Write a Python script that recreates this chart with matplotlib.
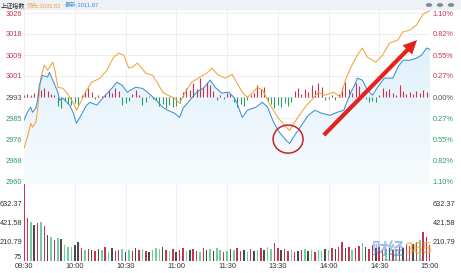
import numpy as np
import matplotlib
matplotlib.use("Agg")
import matplotlib.pyplot as plt
from matplotlib.patches import Ellipse, Circle, Rectangle
from matplotlib.colors import LinearSegmentedColormap

plt.rcParams['font.family'] = ['Liberation Sans', 'Noto Sans CJK SC', 'DejaVu Sans']

# ---------------- data ----------------
prev_close = 2993.1
tick_step = 8.23
price_labels = ["3026", "3018", "3009", "3001", "2993", "2985", "2976", "2968", "2960"]
pct_labels = ["1.10%", "0.82%", "0.55%", "0.27%", "0.00%", "0.27%", "0.55%", "0.82%", "1.10%"]
time_ticks = [0, 30, 60, 90, 120, 150, 180, 210, 240]
time_labels = ["09:30", "10:00", "10:30", "11:00", "11:30", "13:30", "14:00", "14:30", "15:00"]

lead_t = [0, 2, 4, 5, 7, 8, 10, 12, 14, 17, 18, 20, 23, 25, 29, 31, 34, 37, 40, 45, 49, 53, 56, 59, 62,
          64, 67, 72, 76, 79, 82, 85, 89, 92, 95, 99, 103, 108, 111, 115, 119, 123, 126, 129, 132, 135,
          138, 141, 145, 150, 154, 157, 160, 164, 167, 170, 174, 178, 183, 187, 190, 193, 197, 200, 203,
          208, 212, 216, 221, 224, 228, 232, 236, 240]
lead = [2973.0, 2977.3, 2982.8, 2981.2, 2983.2, 2987.9, 3000.9, 3005.6, 3003.6, 3006.8,
        3004.4, 2996.9, 2996.5, 2995.0, 2991.0, 2987.9, 2991.8, 2995.8, 2998.9, 3000.5,
        3003.6, 3008.7, 3010.3, 3009.5, 3004.4, 3004.8, 3006.4, 3002.4, 3001.6, 2998.5,
        2995.0, 2993.8, 2992.6, 2990.6, 2994.6, 2998.9, 3000.5, 3002.4, 3004.4, 3001.6,
        3000.5, 3002.0, 2998.5, 2995.0, 2993.0, 2994.6, 2996.9, 2995.8, 2990.6, 2985.1,
        2982.0, 2980.0, 2983.2, 2987.1, 2989.9, 2991.8, 2995.0, 2993.8, 2995.0, 2993.0,
        2999.7, 3004.4, 3009.5, 3012.3, 3008.7, 3006.8, 3009.5, 3014.2, 3015.4, 3018.6,
        3019.3, 3021.3, 3025.6, 3027.0]

latest_t = [0, 2, 4, 5, 7, 8, 9, 11, 14, 15, 17, 20, 21, 23, 27, 29, 31, 33, 37, 39, 43, 47, 51, 55, 58,
            61, 63, 66, 70, 73, 77, 82, 85, 89, 92, 94, 98, 102, 106, 110, 113, 117, 121, 124, 126, 129,
            132, 137, 141, 144, 147, 151, 155, 157, 160, 164, 168, 172, 176, 181, 185, 189, 193, 196,
            197, 200, 203, 206, 209, 213, 218, 221, 224, 228, 232, 235, 238, 240]
latest = [2984.0, 2987.1, 2989.1, 2987.1, 2988.7, 2991.8, 2997.7, 3001.6, 3000.9, 3002.8,
          2999.7, 2995.0, 2991.8, 2992.6, 2989.9, 2987.1, 2982.8, 2985.1, 2989.9, 2991.0,
          2989.9, 2993.0, 2995.8, 2998.9, 2997.7, 2995.0, 2995.8, 2996.9, 2996.5, 2995.0,
          2992.6, 2989.1, 2987.9, 2986.7, 2985.1, 2988.7, 2991.8, 2995.0, 2996.5, 2999.7,
          2996.9, 2994.6, 2995.0, 2993.0, 2990.6, 2985.1, 2987.9, 2989.1, 2991.0, 2989.1,
          2984.0, 2979.2, 2976.1, 2974.9, 2978.1, 2982.0, 2985.9, 2987.9, 2986.7, 2985.9,
          2987.1, 2987.9, 2994.6, 2998.5, 3000.5, 2999.7, 2995.8, 2993.8, 2996.9, 3000.5,
          3000.5, 3004.8, 3007.5, 3007.5, 3008.3, 3009.5, 3012.3, 3011.7]

bar_t = list(range(0, 241, 2))
updown = [0.8, 1.2, 0.8, 1.6, 2.0, 2.8, 3.5, 2.4, 1.2, 0.8,
          -3.5, -4.3, -1.6, -2.8, -3.1, -2.4, -3.1, 0.8, 2.4, 3.5,
          2.0, -0.8, 0.8, 0.4, 1.2, 2.8, 1.6, 3.5, 2.4, -3.1,
          -2.4, -1.6, 1.2, 2.8, 0.8, -3.1, -2.0, 0.4, -0.8, -1.2,
          -3.5, -2.8, -4.3, -3.1, -3.9, -3.5, -2.4, 2.0, 3.5, 2.8,
          5.5, 3.1, 7.5, 3.9, 5.9, 4.7, 2.4, -1.2, 0.8, -0.8,
          1.6, 1.2, -2.0, -3.9, -2.8, -3.5, -1.2, 0.8, 1.6, 4.7,
          3.1, 3.9, -1.6, -2.8, -4.3, -3.1, -3.9, -2.4, -3.5, -2.0,
          2.4, 3.5, 1.2, 3.1, 2.0, 4.7, 2.8, 5.5, 3.9, -1.2,
          -0.8, 0.8, -1.2, 1.2, 3.9, 5.9, 3.1, 1.6, 5.5, 4.3,
          2.0, -0.8, -2.0, -1.6, -2.0, 0.8, 3.5, 2.4, 3.1, 1.6,
          0.8, 4.7, 2.4, 1.2, 2.0, 1.2, 2.4, 1.6, 2.8, 2.0,
          1.6]

volume = [854, 477, 433, 400, 421, 433, 388, 288, 266, 233, 255,
          244, 177, 155, 155, 177, 211, 144, 122, 133, 122, 111,
          133, 122, 155, 100, 144, 111, 122, 133, 100, 122, 111,
          144, 122, 133, 111, 100, 122, 144, 133, 155, 122, 111,
          133, 100, 122, 144, 111, 122, 133, 111, 100, 144, 122,
          133, 111, 144, 122, 100, 111, 133, 122, 144, 111, 122,
          100, 133, 111, 122, 144, 122, 155, 133, 200, 144, 122,
          133, 111, 122, 100, 111, 122, 133, 111, 122, 100, 122,
          111, 133, 122, 144, 133, 155, 211, 144, 155, 122, 144,
          166, 200, 155, 133, 177, 144, 155, 122, 133, 144, 122,
          133, 155, 144, 177, 166, 188, 211, 233, 322, 266, 177]
vol_dir = ("rrgkrgrkgrg" "kgggkkrgrkr" "kgrgkrrgkgr" "krgrkgggkrg" "rkrrgkrrgrk" "gkggrgkgrrk"
           "grkgrkggrrk" "rrgrkrgkgrg" "gkgrkrrkrgr" "rgkrrkrrgkr" "grkrrkrgrrr")
vol_ticks = [0, 210.79, 421.58, 632.37]
vol_labels = ["75", "210.79", "421.58", "632.37"]

# ---------------- styling ----------------
RED = '#c8344f'
GREEN = '#2a9d63'
ORANGE = '#f0a53c'
BLUE = '#3f91d2'
GRID = '#ebebeb'
HDR_FONT = ['Liberation Sans', 'Noto Sans CJK SC']

W, H = 461, 273
fig = plt.figure(figsize=(W / 100, H / 100), dpi=100)
fig.patch.set_facecolor('white')


def rect(x0, y0, x1, y1):
    return [x0 / W, 1 - y1 / H, (x1 - x0) / W, (y1 - y0) / H]


# header band
fig.patches.append(Rectangle((0, 1 - 10 / H), 1, 10 / H, transform=fig.transFigure,
                             facecolor='#eef1f5', edgecolor='none', zorder=0))
fig.text(1 / W, 1 - 5.5 / H, "上证指数", fontsize=4.4, color='#222222', va='center', family=HDR_FONT)
fig.text(27 / W, 1 - 5.5 / H, "领先:3035.82", fontsize=4.2, color=ORANGE, va='center', family=HDR_FONT)
fig.text(65 / W, 1 - 5.5 / H, "最新:3011.67", fontsize=4.2, color=BLUE, va='center', family=HDR_FONT)
for cx in (429, 440, 451):
    fig.patches.append(Circle((cx / W, 1 - 5 / H), 3.2 / W, transform=fig.transFigure,
                              facecolor='#7d899b', edgecolor='none'))

ax = fig.add_axes(rect(24, 10, 430, 184))
axv = fig.add_axes(rect(24, 184, 430, 261))

px = tick_step / 21.0
ylo, yhi = prev_close - 87 * px, prev_close + 87 * px
levels = [prev_close + tick_step * k for k in range(4, -5, -1)]
lab_colors = [RED] * 4 + ['#555555'] + [GREEN] * 4

# gradient fill under latest line
cmap = LinearSegmentedColormap.from_list('fill', ['#f7fbfe', '#d9eefa'])
grad = np.linspace(0, 1, 256).reshape(-1, 1)
im = ax.imshow(grad, extent=[0, 240, ylo, yhi], origin='lower', aspect='auto', cmap=cmap, zorder=1)
poly = ax.fill_between(latest_t, latest, ylo, color='none', lw=0)
im.set_clip_path(poly.get_paths()[0], transform=ax.transData)

# up/down bars
ud = np.array(updown)
ax.vlines(bar_t, prev_close, prev_close + ud, colors=[RED if v > 0 else GREEN for v in ud],
          lw=0.8, zorder=2)

ax.plot(lead_t, lead, color=ORANGE, lw=0.75, zorder=3)
ax.plot(latest_t, latest, color=BLUE, lw=0.75, zorder=4)

ax.set_xlim(0, 240)
ax.set_ylim(ylo, yhi)
ax.set_xticks(time_ticks)
ax.set_yticks(levels, price_labels)
for lab, c in zip(ax.get_yticklabels(), lab_colors):
    lab.set_color(c)
ax.tick_params(axis='x', labelbottom=False, length=0)
ax.tick_params(axis='y', length=0, pad=1.5, labelsize=5.3)
ax.grid(True, color=GRID, lw=0.6, zorder=0)
ax.set_axisbelow(True)
for s in ax.spines.values():
    s.set_visible(False)

axr = ax.twinx()
axr.set_ylim(ylo, yhi)
axr.set_yticks(levels, pct_labels)
for lab, c in zip(axr.get_yticklabels(), lab_colors):
    lab.set_color(c)
axr.tick_params(axis='y', length=0, pad=2, labelsize=5.3)
for s in axr.spines.values():
    s.set_visible(False)

# annotations: circle and arrow
ax.add_patch(Ellipse((156.1, 2976.6), 17.7, 11.0, fill=False, edgecolor='#c9202b', lw=1.1, zorder=6))
ax.annotate('', xy=(233.5, 3016.2), xytext=(176.1, 2977.4),
            arrowprops=dict(arrowstyle='simple,head_length=1.0,head_width=0.95,tail_width=0.3',
                            mutation_scale=10, color='#e5231d', lw=0), zorder=7)

# volume panel
cmap_dir = {'r': RED, 'g': '#6fcf9f', 'k': '#4a4a4a'}
axv.bar(bar_t, volume, width=0.9, color=[cmap_dir[c] for c in vol_dir], zorder=2)
axv.set_xlim(0, 240)
axv.set_ylim(0, 854)
axv.set_xticks(time_ticks, time_labels)
axv.set_yticks(vol_ticks, vol_labels)
axv.tick_params(axis='x', length=0, pad=1.5, labelsize=5.3, labelcolor='#333333')
axv.tick_params(axis='y', length=0, pad=1.5, labelsize=5.3, labelcolor='#333333')
axv.get_yticklabels()[0].set_va('bottom')
axv.grid(True, axis='x', color=GRID, lw=0.6, zorder=0)
axv.set_axisbelow(True)
for s in axv.spines.values():
    s.set_visible(False)
axvr = axv.twinx()
axvr.set_ylim(0, 854)
axvr.set_yticks(vol_ticks[1:], vol_labels[1:])
axvr.tick_params(axis='y', length=0, pad=2, labelsize=5.3, labelcolor='#333333')
for s in axvr.spines.values():
    s.set_visible(False)

# watermark
fig.text(372 / W, 1 - 250 / H, "财经", fontsize=12, color='#3f7fd6', alpha=0.5, va='center',
         fontweight='bold', family=['Noto Sans CJK SC'])
fig.text(405 / W, 1 - 250 / H, "365", fontsize=12, color='#f29a2e', alpha=0.55, va='center',
         fontweight='bold', family=['Liberation Sans'])
fig.text(383 / W, 1 - 260.5 / H, "www.caijing365.com", fontsize=3.2, color='#6a8fc8', alpha=0.7,
         va='center')

fig.savefig('out.png', dpi=100, facecolor='white')
